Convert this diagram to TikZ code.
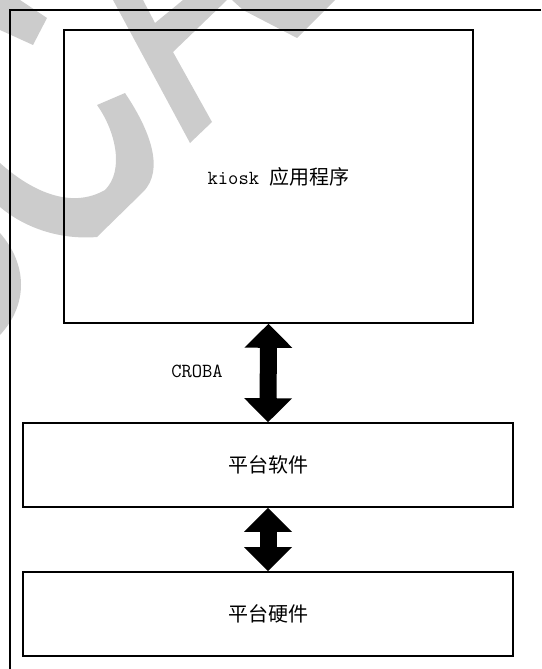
\documentclass[tikz,border=0pt]{standalone}
\usepackage{fontspec}
\newfontfamily\zh{Noto Sans CJK SC}
\usetikzlibrary{arrows.meta}

\tikzset{
    layer/.style={draw, line width=1.6pt, inner sep=0pt, font=\zh\fontsize{20}{24}\selectfont},
    latin/.style={font=\ttfamily\fontsize{20}{24}\selectfont},
    link/.style={line width=17pt,
        {Triangle[width=48pt,length=24pt,line width=0pt]}-{Triangle[width=48pt,length=24pt,line width=0pt]}},
    wmark/.style={fill=black!20, draw=none}
}

\begin{document}
\begin{tikzpicture}[x=1pt, y=-1pt]
    \useasboundingbox (0,0) rectangle (541,669);

    \def\xc{268};
    \def\wl{490};
    \def\hl{84};

% watermark

    \fill[wmark] (0,0) -- (20,0) -- (47,18) -- (33,45) -- (0,30) -- cycle;
    \fill[wmark] (113,0) -- (143,0) -- (155,23) -- (183,0) -- (227,0) -- (173,52) -- (212,122) -- (190,143) -- cycle;
    \fill[wmark] (232,0) -- (335,0) -- (320,15) -- (297,38) -- (243,10) -- cycle;
    \fill[wmark] (97,105) -- (125,93) .. controls (150,130) and (165,170) .. (143,192) -- (97,237)
        .. controls (60,240) and (25,228) .. (0,207) -- (0,163)
        .. controls (30,190) and (70,210) .. (105,190) .. controls (125,170) and (115,130) .. (97,105) -- cycle;
    \fill[wmark] (0,233) .. controls (28,265) and (28,305) .. (0,335) -- cycle;

% frame

    \draw[line width=1.6pt] (541,10) -- (10,10) -- (10,669);

% layers

    \node[layer, minimum width=409pt, minimum height=293pt] (app) at (268.5,176.5)
        {\hspace*{20pt}{\ttfamily\fontsize{20}{24}\selectfont kiosk\ }应用程序};
    \node[layer, minimum width=\wl pt, minimum height=\hl pt] (sw) at (\xc,465) {平台软件};
    \node[layer, minimum width=\wl pt, minimum height=\hl pt] (hw) at (\xc,614) {平台硬件};

    \node[latin] (croba) at (197,371) {CROBA};

    \draw[link] (app.south) -- (sw.north);
    \draw[link] (sw.south) -- (hw.north);

\end{tikzpicture}
\end{document}
